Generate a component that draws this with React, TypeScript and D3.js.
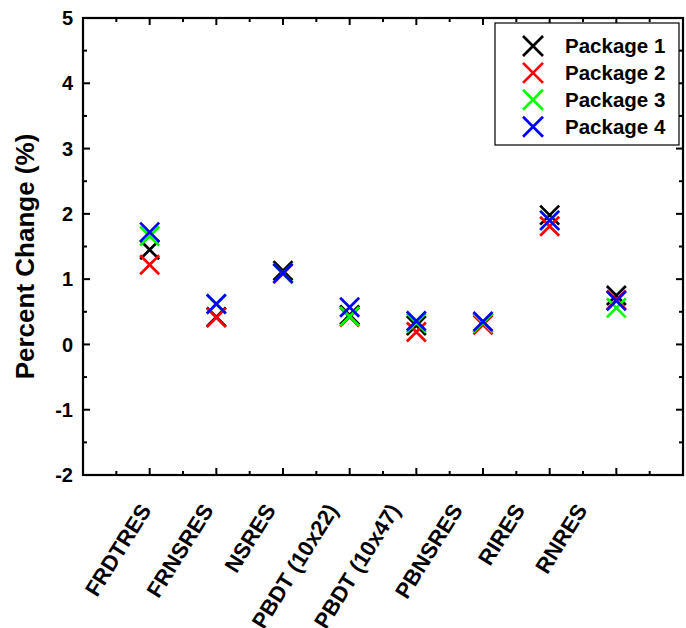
import React from 'react';
import * as d3 from 'd3';

// Categories along the x axis
const categories = [
  'FRDTRES',
  'FRNSRES',
  'NSRES',
  'PBDT (10x22)',
  'PBDT (10x47)',
  'PBNSRES',
  'RIRES',
  'RNRES',
];

// Percent change per category, one array per package
const package1 = [1.45, 0.42, 1.13, 0.45, 0.29, 0.33, 1.98, 0.75];
const package2 = [1.22, 0.41, 1.08, 0.42, 0.19, 0.30, 1.81, 0.68];
const package3 = [1.66, 0.62, 1.09, 0.43, 0.33, 0.33, 1.90, 0.56];
const package4 = [1.72, 0.62, 1.09, 0.57, 0.36, 0.35, 1.90, 0.67];

const seriesNames = ['Package 1', 'Package 2', 'Package 3', 'Package 4'];
const seriesColors = ['#000000', '#ff0000', '#00ff00', '#0000ff'];
const seriesValues = [package1, package2, package3, package4];

const yTickValues = [-2, -1, 0, 1, 2, 3, 4, 5];

const W = 686;
const H = 628;
const FONT = '"Liberation Sans", Arial, Helvetica, sans-serif';

const plot = { left: 83, right: 683, top: 18, bottom: 475 };

const x = d3.scaleLinear().domain([0, categories.length + 1]).range([plot.left, plot.right]);
const y = d3.scaleLinear().domain([-2, 5]).range([plot.bottom, plot.top]);
// Category labels sit on their own evenly spaced positions under the axis
const labelX = d3.scalePoint<string>().domain(categories).range([152, 588]);

const crossPath = (cx: number, cy: number, r: number) =>
  `M${cx - r},${cy - r}L${cx + r},${cy + r}M${cx - r},${cy + r}L${cx + r},${cy - r}`;

export default function App() {
  const xMajor = d3.range(1, categories.length + 1);
  const xMinor = d3.range(0.5, categories.length + 1, 1);
  const yMinor = d3.range(-1.5, 5, 1);

  const MAJ = 7;
  const MIN = 4;

  return (
    <svg
      width={W}
      height={H}
      style={{ position: 'absolute', left: 0, top: 0, background: '#fff' }}
      fontFamily={FONT}
    >
      <rect x={0} y={0} width={W} height={H} fill="#fff" />

      {/* data markers */}
      {seriesValues.map((vals, si) => (
        <g key={si} stroke={seriesColors[si]} strokeWidth={2.7} fill="none">
          {vals.map((v, i) => (
            <path key={i} d={crossPath(x(i + 1), y(v), 9.5)} />
          ))}
        </g>
      ))}

      {/* frame */}
      <rect
        x={plot.left}
        y={plot.top}
        width={plot.right - plot.left}
        height={plot.bottom - plot.top}
        fill="none"
        stroke="#000"
        strokeWidth={2.2}
      />

      {/* ticks on all four sides, pointing inward */}
      <g stroke="#000" strokeWidth={2}>
        {xMajor.map((t) => (
          <g key={'xM' + t}>
            <line x1={x(t)} x2={x(t)} y1={plot.bottom} y2={plot.bottom - MAJ} />
            <line x1={x(t)} x2={x(t)} y1={plot.top} y2={plot.top + MAJ} />
          </g>
        ))}
        {xMinor.map((t) => (
          <g key={'xm' + t}>
            <line x1={x(t)} x2={x(t)} y1={plot.bottom} y2={plot.bottom - MIN} />
            <line x1={x(t)} x2={x(t)} y1={plot.top} y2={plot.top + MIN} />
          </g>
        ))}
        {yTickValues.map((t) => (
          <g key={'yM' + t}>
            <line x1={plot.left} x2={plot.left + MAJ} y1={y(t)} y2={y(t)} />
            <line x1={plot.right} x2={plot.right - MAJ} y1={y(t)} y2={y(t)} />
          </g>
        ))}
        {yMinor.map((t) => (
          <g key={'ym' + t}>
            <line x1={plot.left} x2={plot.left + MIN} y1={y(t)} y2={y(t)} />
            <line x1={plot.right} x2={plot.right - MIN} y1={y(t)} y2={y(t)} />
          </g>
        ))}
      </g>

      {/* y tick labels */}
      <g fontSize={20} fontWeight="bold" textAnchor="end">
        {yTickValues.map((t) => (
          <text key={t} x={73} y={y(t)} dy="0.36em">
            {t}
          </text>
        ))}
      </g>

      {/* y axis title */}
      <text
        transform={`translate(34,${(plot.top + plot.bottom) / 2 + 10}) rotate(-90)`}
        textAnchor="middle"
        fontSize={26}
        fontWeight="bold"
      >
        Percent Change (%)
      </text>

      {/* category labels */}
      <g fontSize={22} fontWeight="bold" textAnchor="end">
        {categories.map((c) => (
          <text key={c} transform={`translate(${labelX(c)},510) rotate(-58)`}>
            {c}
          </text>
        ))}
      </g>

      {/* legend */}
      <g>
        <rect x={495} y={23} width={184} height={122} fill="#fff" stroke="#000" strokeWidth={1.2} />
        {seriesNames.map((name, i) => {
          const cy = 46 + i * 26.9;
          return (
            <g key={name}>
              <path d={crossPath(533, cy, 10)} stroke={seriesColors[i]} strokeWidth={2.7} fill="none" />
              <text x={565} y={cy} dy="0.36em" fontSize={20.5} fontWeight="bold">
                {name}
              </text>
            </g>
          );
        })}
      </g>
    </svg>
  );
}
